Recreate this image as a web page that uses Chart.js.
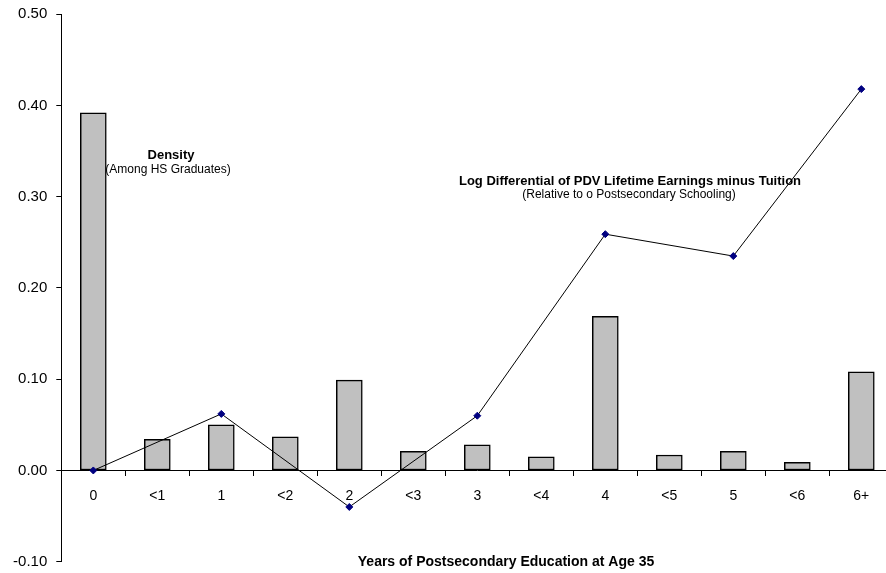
<!DOCTYPE html>
<html>
<head>
<meta charset="utf-8">
<script src="https://cdn.jsdelivr.net/npm/chart.js@4/dist/chart.umd.min.js"></script>
<style>
  html, body { margin: 0; padding: 0; background: #fff; overflow: hidden; }
  #wrap { width: 900px; height: 573px; }
</style>
</head>
<body>
<div id="wrap"><canvas id="chart" width="900" height="573"></canvas></div>
<script>
// Years of postsecondary education at age 35 — density bars plus the
// log PDV earnings differential line (only defined at whole years).
const categories = ["0", "<1", "1", "<2", "2", "<3", "3", "<4", "4", "<5", "5", "<6", "6+"];
const density = [0.392, 0.034, 0.050, 0.037, 0.099, 0.021, 0.028, 0.015, 0.169, 0.017, 0.021, 0.009, 0.108];
const logDifferential = [0.000, null, 0.062, null, -0.040, null, 0.060, null, 0.259, null, 0.235, null, 0.418];
const yTicks = [-0.10, 0.00, 0.10, 0.20, 0.30, 0.40, 0.50];

const FONT = "'Liberation Sans', Arial, sans-serif";

// free-floating labels, drawn after the chart
const annotationPlugin = {
  id: "annotations",
  afterDraw(chart) {
    const ctx = chart.ctx;
    ctx.save();
    ctx.fillStyle = "#000";
    ctx.textAlign = "center";
    ctx.textBaseline = "middle";

    ctx.font = "bold 13px " + FONT;
    ctx.fillText("Density", 171, 155);
    ctx.font = "12px " + FONT;
    ctx.fillText("(Among HS Graduates)", 168, 170);

    ctx.font = "bold 13px " + FONT;
    ctx.fillText("Log Differential of PDV Lifetime Earnings minus Tuition", 630, 181);
    ctx.font = "12px " + FONT;
    ctx.fillText("(Relative to o Postsecondary Schooling)", 629, 195);

    ctx.font = "bold 14px " + FONT;
    ctx.fillText("Years of Postsecondary Education at Age 35", 506, 562);
    ctx.restore();
  },
};

new Chart(document.getElementById("chart"), {
  type: "bar",
  data: {
    labels: categories,
    datasets: [
      {
        type: "line",
        label: "Log Differential",
        data: logDifferential,
        spanGaps: true,
        borderColor: "#000",
        borderWidth: 1,
        pointStyle: "rectRot",
        pointRadius: 3.5,
        pointBackgroundColor: "#000080",
        pointBorderColor: "#000080",
        pointBorderWidth: 1,
        tension: 0,
        order: 0,
      },
      {
        label: "Density",
        data: density,
        backgroundColor: "#c0c0c0",
        borderColor: "#000",
        borderWidth: 1.5,
        borderSkipped: false,
        barThickness: 26,
        order: 1,
      },
    ],
  },
  options: {
    responsive: false,
    animation: false,
    layout: { padding: { top: 14.3, right: 6.7, bottom: 11.3, left: 0 } },
    plugins: { legend: { display: false }, tooltip: { enabled: false } },
    scales: {
      x: {
        position: { y: 0 },
        offset: true,
        grid: { display: true, offset: true, drawOnChartArea: false, drawTicks: true, tickLength: 5, color: "#000" },
        border: { display: true, color: "#000", width: 1 },
        ticks: { color: "#000", font: { family: FONT, size: 14 }, padding: 12.5, maxRotation: 0 },
      },
      y: {
        min: -0.1,
        max: 0.5,
        afterFit(scale) {
          scale.width = 61.3;
          // let the layout padding alone decide the plot's top and bottom
          scale.paddingTop = 0;
          scale.paddingBottom = 0;
        },
        afterBuildTicks(scale) { scale.ticks = yTicks.map((v) => ({ value: v })); },
        grid: { display: true, drawOnChartArea: false, drawTicks: true, tickLength: 5, color: "#000" },
        border: { display: true, color: "#000", width: 1 },
        ticks: {
          color: "#000",
          font: { family: FONT, size: 15 },
          padding: 9,
          callback: (v) => Number(v).toFixed(2),
        },
      },
    },
  },
  plugins: [annotationPlugin],
});
</script>
</body>
</html>
